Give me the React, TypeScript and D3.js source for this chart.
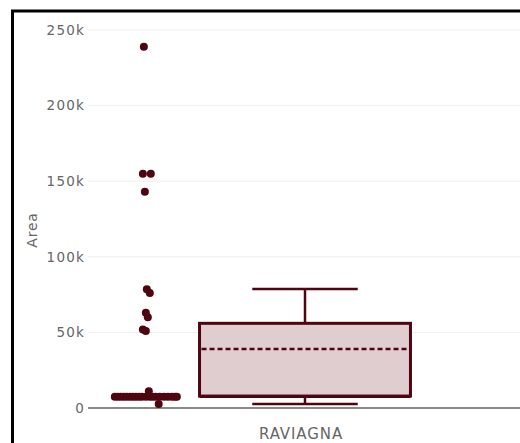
import React from "react";
import * as d3 from "d3";

const categories = ["RAVIAGNA"];
const pointValues = [
  239000, 155000, 155000, 143000, 78500, 76000, 63000, 60000, 52000, 51000,
  7500, 7500, 7500, 7500, 7500, 7500, 7500, 7500, 7500, 7500,
  7500, 7500, 7500, 7500, 7500, 7500, 7500, 7500, 7500, 7500,
  11000, 2600,
];
const pointJitter = [
  -0.03, -0.06, 0.18, 0.0, 0.06, 0.15, 0.03, 0.09, -0.06, 0.03,
  -0.91, -0.82, -0.73, -0.64, -0.55, -0.45, -0.36, -0.27, -0.18, -0.09,
  0.03, 0.15, 0.24, 0.33, 0.45, 0.58, 0.7, 0.82, 0.91, 0.97,
  0.12, 0.42,
];
const boxStats = { lowerFence: 2600, q1: 7900, median: 7600, q3: 56000, upperFence: 78700, mean: 39000 };
const yTicks = [0, 50000, 100000, 150000, 200000, 250000];
const yTickLabels = ["0", "50k", "100k", "150k", "200k", "250k"];

const W = 520;
const H = 443;
const COLOR = "#4e0510";
const FILL = "#dfcdd0";
const FONT = "'DejaVu Sans', Verdana, sans-serif";

export default function App() {
  const y = d3.scaleLinear().domain([0, 250000]).range([408, 30]);
  const x = d3.scaleBand().domain(categories).range([88, 522]);
  const bw = x.bandwidth();
  const cx = (x(categories[0]) as number) + bw / 2;
  const boxHalf = bw * 0.243;
  const capHalf = boxHalf / 2;
  const ptCenter = cx - bw * 0.369;
  const jitterHalf = bw * 0.076;

  return (
    <svg width={W} height={H} style={{ position: "absolute", left: 0, top: 0, background: "#fff" }}>
      <rect x={0} y={0} width={W} height={H} fill="#fff" />
      {yTicks.map((t, i) => (
        <g key={t}>
          {t !== 0 && (
            <line x1={88} x2={520} y1={y(t)} y2={y(t)} stroke="#eeeeee" strokeWidth={1} />
          )}
          <text
            x={85}
            y={y(t)}
            dy="0.36em"
            textAnchor="end"
            fontFamily={FONT}
            fontSize={13.5}
            letterSpacing={1.2}
            fill="#666"
          >
            {yTickLabels[i]}
          </text>
        </g>
      ))}
      <line x1={88} x2={520} y1={y(0)} y2={y(0)} stroke="#888" strokeWidth={2} />
      <text
        transform={`translate(37,${230}) rotate(-90)`}
        textAnchor="middle"
        fontFamily={FONT}
        fontSize={14}
        letterSpacing={0.8}
        fill="#666"
      >
        Area
      </text>
      <text
        x={cx - 4}
        y={439}
        textAnchor="middle"
        fontFamily={FONT}
        fontSize={15}
        letterSpacing={0.9}
        fill="#666"
      >
        {categories[0]}
      </text>

      {/* whiskers */}
      <line x1={cx} x2={cx} y1={y(boxStats.q3)} y2={y(boxStats.upperFence)} stroke={COLOR} strokeWidth={2.5} />
      <line x1={cx} x2={cx} y1={y(boxStats.q1)} y2={y(boxStats.lowerFence)} stroke={COLOR} strokeWidth={2.5} />
      <line x1={cx - capHalf} x2={cx + capHalf} y1={y(boxStats.upperFence)} y2={y(boxStats.upperFence)} stroke={COLOR} strokeWidth={2.5} />
      <line x1={cx - capHalf} x2={cx + capHalf} y1={y(boxStats.lowerFence)} y2={y(boxStats.lowerFence)} stroke={COLOR} strokeWidth={2.5} />
      {/* box */}
      <rect
        x={cx - boxHalf}
        y={y(boxStats.q3)}
        width={boxHalf * 2}
        height={y(boxStats.q1) - y(boxStats.q3)}
        fill={FILL}
        stroke={COLOR}
        strokeWidth={3}
      />
      <line x1={cx - boxHalf} x2={cx + boxHalf} y1={y(boxStats.median)} y2={y(boxStats.median)} stroke={COLOR} strokeWidth={3} />
      <line
        x1={cx - boxHalf + 2}
        x2={cx + boxHalf - 2}
        y1={y(boxStats.mean)}
        y2={y(boxStats.mean)}
        stroke={COLOR}
        strokeWidth={2.5}
        strokeDasharray="5,3"
      />

      {/* points */}
      {pointValues.map((v, i) => (
        <circle key={i} cx={ptCenter + pointJitter[i] * jitterHalf} cy={y(v)} r={4} fill={COLOR} />
      ))}

      {/* frame */}
      <rect x={12.5} y={11} width={W + 20} height={H + 20} fill="none" stroke="#000" strokeWidth={3} />
    </svg>
  );
}
